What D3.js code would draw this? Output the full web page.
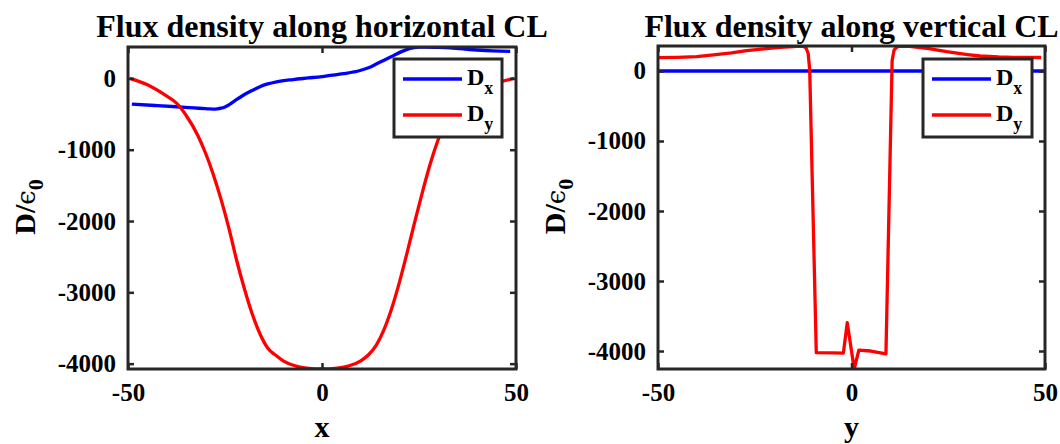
<!DOCTYPE html>
<html>
<head>
<meta charset="utf-8">
<script src="https://cdn.jsdelivr.net/npm/d3@7"></script>
<style>
  html, body { margin: 0; padding: 0; background: #fff; }
  svg { display: block; }
  text { font-family: "Liberation Serif", "Times New Roman", serif; font-weight: bold; fill: #000; }
</style>
</head>
<body>
<svg id="fig" width="1060" height="444"></svg>
<script>
// ---- data -------------------------------------------------------------
const ticksX = [-50, 0, 50];
const ticksY = [-4000, -3000, -2000, -1000, 0];

// Flux density along the horizontal centre line
const hPosDx = [-49, -43, -37.5, -33, -30, -29, -28, -27, -26, -25, -24, -22.5, -20.3, -18, -16, -14, -11.7, -7.4, -3.5, 0, 5.5, 9.8, 12, 14.1, 16, 18.4, 20.5, 22.7, 25, 27, 30, 33, 35.6, 38, 39.9, 44, 48.5];
const hDx    = [-361, -380, -398, -415, -425, -429, -430, -427, -418, -400, -372, -315, -236, -170, -117, -78, -48, -16, 6, 26, 65, 111, 150, 204, 255, 319, 375, 420, 438, 440, 436, 428, 416, 405, 398, 386, 380];
const hPosDy = [-49.5, -45, -40, -37.5, -35, -32, -30, -28, -26, -24, -22, -20, -18, -16, -14, -12, -10, -7, -4, 0, 4, 7, 10, 12, 14, 16, 18, 20, 22, 24, 26, 28, 30, 32, 35, 40, 45, 49.5];
const hDy    = [0, -90, -250, -347, -520, -800, -1050, -1350, -1700, -2100, -2550, -2950, -3300, -3580, -3780, -3880, -3960, -4030, -4062, -4075, -4062, -4030, -3960, -3875, -3740, -3520, -3220, -2850, -2430, -1990, -1570, -1180, -850, -580, -330, -130, -60, 0];

// Flux density along the vertical centre line
const vPosDx = [-50, -25, 0, 25, 50];
const vDx    = [0, 0, 0, 0, 0];
const vPosDy = [-50, -45, -40, -35.7, -31, -27.1, -22, -18.5, -15, -13.3, -12.3, -11.7, -11.2, -10.8, -9.1, -5, -2.1, -1.1, 0.7, 1.9, 5, 8.9, 10.5, 11.0, 11.8, 12.5, 15, 20, 24.6, 30, 33.2, 38, 41.8, 49];
const vDy    = [190, 195, 205, 229, 258, 290, 320, 338, 350, 357, 352, 325, 250, 20, -4024, -4028, -4030, -3595, -4257, -3986, -4000, -4040, 150, 300, 345, 355, 352, 320, 276, 235, 214, 200, 195, 193];

const titles = ["Flux density along horizontal CL", "Flux density along vertical CL"];
const axisNames = ["x", "y"];
const seriesNames = [["D", "x"], ["D", "y"]];
const seriesColors = ["#0000ff", "#ff0000"];

// ---- layout -----------------------------------------------------------
const panels = [
  { box: { x0: 128, x1: 516, y0: 47, y1: 369 }, legend: { x: 394, y: 59, w: 108, h: 78 },
    series: [{ x: hPosDx, y: hDx }, { x: hPosDy, y: hDy }], curve: d3.curveMonotoneX,
    title: titles[0], xName: axisNames[0], yLabelX: 35 },
  { box: { x0: 658, x1: 1045, y0: 46, y1: 369 }, legend: { x: 923, y: 59, w: 109, h: 78 },
    series: [{ x: vPosDx, y: vDx }, { x: vPosDy, y: vDy }], curve: d3.curveLinear,
    title: titles[1], xName: axisNames[1], yLabelX: 565 }
];

const svg = d3.select("#fig");
const axisColor = "#262626";
const plain = d => String(d);   // "-1000", no thousands separator

panels.forEach((p, i) => {
  const b = p.box;
  const x = d3.scaleLinear().domain([-50, 50]).range([b.x0, b.x1]);
  const allY = p.series.flatMap(s => s.y);
  const y = d3.scaleLinear().domain(d3.extent(allY)).range([b.y1, b.y0]);

  const g = svg.append("g");

  // clip region for the data
  const clipId = "clip" + i;
  svg.append("defs").append("clipPath").attr("id", clipId)
    .append("rect").attr("x", b.x0).attr("y", b.y0)
    .attr("width", b.x1 - b.x0).attr("height", b.y1 - b.y0);

  // data lines
  const line = d3.line().curve(p.curve);
  const dataG = g.append("g").attr("clip-path", `url(#${clipId})`);
  p.series.forEach((s, k) => {
    const pts = s.x.map((v, j) => [x(v), y(s.y[j])]);
    dataG.append("path")
      .attr("d", line(pts))
      .attr("fill", "none")
      .attr("stroke", seriesColors[k])
      .attr("stroke-width", 3.3)
      .attr("stroke-linejoin", "round");
  });

  // axes: ticks drawn inward on all four sides
  const tickLen = 6;
  const bottomAxis = d3.axisBottom(x).tickValues(ticksX).tickFormat(plain).tickSizeInner(-tickLen).tickSizeOuter(0).tickPadding(14);
  const topAxis = d3.axisTop(x).tickValues(ticksX).tickSizeInner(-tickLen).tickSizeOuter(0).tickFormat("");
  const leftAxis = d3.axisLeft(y).tickValues(ticksY).tickFormat(plain).tickSizeInner(-tickLen).tickSizeOuter(0).tickPadding(12);
  const rightAxis = d3.axisRight(y).tickValues(ticksY).tickSizeInner(-tickLen).tickSizeOuter(0).tickFormat("");

  const styleAxis = sel => {
    sel.select(".domain").remove();
    sel.selectAll(".tick line").attr("stroke", axisColor).attr("stroke-width", 2.5);
    sel.selectAll(".tick text")
      .style("font-family", '"Liberation Serif", "Times New Roman", serif')
      .style("font-weight", "bold").style("font-size", "25px").attr("fill", "#000");
  };
  g.append("g").attr("transform", `translate(0,${b.y1})`).call(bottomAxis).call(styleAxis);
  g.append("g").attr("transform", `translate(0,${b.y0})`).call(topAxis).call(styleAxis);
  g.append("g").attr("transform", `translate(${b.x0},0)`).call(leftAxis).call(styleAxis);
  g.append("g").attr("transform", `translate(${b.x1},0)`).call(rightAxis).call(styleAxis);

  // frame
  g.append("rect").attr("x", b.x0).attr("y", b.y0)
    .attr("width", b.x1 - b.x0).attr("height", b.y1 - b.y0)
    .attr("fill", "none").attr("stroke", axisColor).attr("stroke-width", 3);

  // title
  g.append("text").attr("x", (b.x0 + b.x1) / 2).attr("y", 37)
    .attr("text-anchor", "middle").style("font-size", "32px").text(p.title);

  // x axis name
  g.append("text").attr("x", (b.x0 + b.x1) / 2).attr("y", 437)
    .attr("text-anchor", "middle").style("font-size", "30px").text(p.xName);

  // y axis name: D/ϵ with subscript 0
  const yl = g.append("text")
    .attr("transform", `translate(${p.yLabelX},${(b.y0 + b.y1) / 2 - 1}) rotate(-90)`)
    .attr("text-anchor", "middle").style("font-size", "30px");
  yl.append("tspan").text("D/");
  yl.append("tspan").style("font-weight", "normal").style("font-family", '"DejaVu Serif", serif')
    .style("font-size", "26px").text("\u03F5");
  yl.append("tspan").attr("dy", 8).style("font-size", "22px").text("0");

  // legend
  const L = p.legend;
  const lg = g.append("g");
  lg.append("rect").attr("x", L.x).attr("y", L.y).attr("width", L.w).attr("height", L.h)
    .attr("fill", "#fff").attr("stroke", axisColor).attr("stroke-width", 3);
  seriesNames.forEach((nm, k) => {
    const cy = L.y + 20 + k * 36;
    lg.append("line").attr("x1", L.x + 9).attr("x2", L.x + 68).attr("y1", cy).attr("y2", cy)
      .attr("stroke", seriesColors[k]).attr("stroke-width", 3.3);
    const t = lg.append("text").attr("x", L.x + 73).attr("y", cy + 6).style("font-size", "24px");
    t.append("tspan").text(nm[0]);
    t.append("tspan").attr("dy", 9).style("font-size", "18px").text(nm[1]);
  });
});
</script>
</body>
</html>
